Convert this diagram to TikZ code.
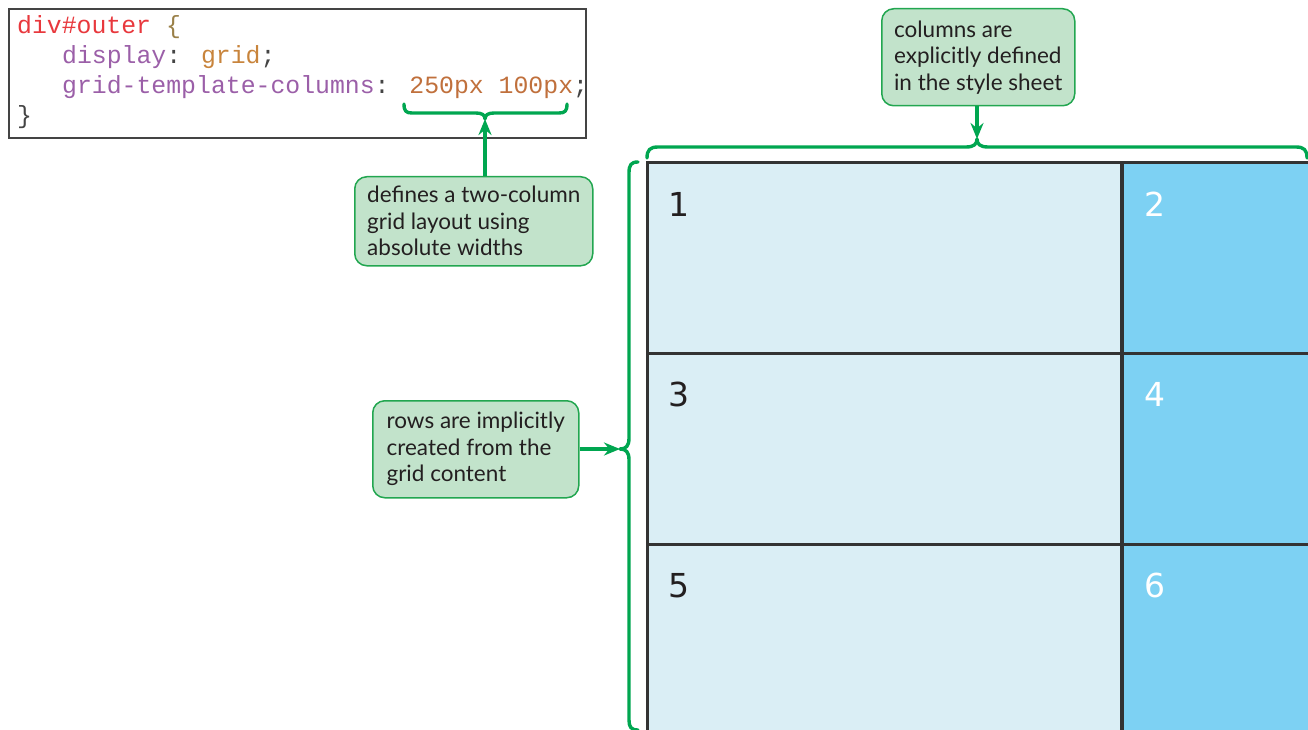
\documentclass[tikz,border=0pt]{standalone}
\usepackage{fontspec}
\setmainfont{Lato}
\newfontfamily\codefont{Liberation Mono}
\newfontfamily\cellfont{DejaVu Sans}
\usetikzlibrary{arrows.meta}
\definecolor{callfill}{HTML}{C2E3CB}
\definecolor{callline}{HTML}{22A650}
\definecolor{bracegreen}{HTML}{00A650}
\definecolor{cellpale}{HTML}{DAEEF5}
\definecolor{cellblue}{HTML}{7DD1F3}
\definecolor{gridline}{HTML}{333333}
\definecolor{codered}{HTML}{E8383D}
\definecolor{codebrace}{HTML}{9A8048}
\definecolor{codeprop}{HTML}{9B5FA8}
\definecolor{codeval}{HTML}{C8843C}
\definecolor{codenum}{HTML}{C0703C}
\definecolor{codedark}{HTML}{444444}
\definecolor{texttone}{HTML}{231F20}
\tikzset{
  callout/.style={draw=callline, fill=callfill, line width=1.5pt, rounded corners=12pt,
    align=left, text=texttone, font=\fontsize{22.5}{26.5}\selectfont, inner sep=4pt, anchor=north west},
  codeline/.style={anchor=base west, inner sep=0pt, font=\codefont\fontsize{24.8}{30}\selectfont},
  bracepath/.style={draw=bracegreen, line width=3.4pt, line cap=round, line join=round},
  arr/.style={draw=bracegreen, line width=3.2pt, -{Stealth[length=16pt,width=13pt]}},
  cellnum/.style={anchor=base west, inner sep=0pt, font=\cellfont\fontsize{33}{33}\selectfont},
}
\begin{document}
\begin{tikzpicture}[x=1pt,y=-1pt]
\useasboundingbox (0,0) rectangle (1308,730);

% style sheet excerpt
\node[draw=codedark, line width=1.6pt, minimum width=577pt, minimum height=129pt, anchor=north west, inner sep=0pt] (code) at (8,8) {};
\node[codeline] (l1) at (17,34) {\color{codered}div\#outer \color{codebrace}\{};
\node[codeline] (l2) at (62,64) {\color{codeprop}display\color{codedark}: \color{codeval}grid\color{codedark};};
\node[codeline] (l3) at (62,94) {\color{codeprop}grid-template-columns\color{codedark}: \color{codenum}250px 100px\color{codedark};};
\node[codeline] (l4) at (17,124) {\color{codedark}\}};

% grid cells
\fill[cellpale] (647,163) rectangle (1122,730);
\fill[cellblue] (1122,163) rectangle (1310,730);
\draw[gridline, line width=3pt] (1310,163) -- (647,163) -- (647,732);
\draw[gridline, line width=3.4pt] (1122,163) -- (1122,732);
\draw[gridline, line width=3pt] (647,353) -- (1310,353);
\draw[gridline, line width=3pt] (647,544) -- (1310,544);
\node[cellnum, text=texttone] (n1) at (668,216) {1};
\node[cellnum, text=white] (n2) at (1144,216) {2};
\node[cellnum, text=texttone] (n3) at (668,406) {3};
\node[cellnum, text=white] (n4) at (1144,406) {4};
\node[cellnum, text=texttone] (n5) at (668,597) {5};
\node[cellnum, text=white] (n6) at (1144,597) {6};

% braces
\coordinate (tipcode) at (485,119);
\coordinate (tiptop) at (977,139);
\coordinate (tipleft) at (620,449);
\draw[bracepath] (404,104) .. controls (404,111) and (406,113) .. (412,113) -- (476,113)
  .. controls (482,113) and (485,115) .. (tipcode) .. controls (485,115) and (488,113) .. (494,113)
  -- (559,113) .. controls (565,113) and (567,111) .. (567,104);
\draw[bracepath] (647,158) .. controls (647,150) and (650,147) .. (658,147) -- (966,147)
  .. controls (974,147) and (977,144) .. (tiptop) .. controls (977,144) and (980,147) .. (988,147)
  -- (1296,147) .. controls (1304,147) and (1307,150) .. (1307,158);
\draw[bracepath] (638,162) .. controls (631,162) and (629,165) .. (629,173) -- (629,438)
  .. controls (629,446) and (626,449) .. (tipleft) .. controls (626,449) and (629,452) .. (629,460)
  -- (629,720) .. controls (629,727) and (631,730) .. (638,730);

% callouts
\node[callout, minimum width=238pt, minimum height=89pt] (c1) at (354,176)
  {defines a two-column\\grid layout using\\absolute widths};
\node[callout, minimum width=193pt, minimum height=97pt] (c2) at (881,8)
  {columns are\\explicitly defined\\in the style sheet};
\node[callout, minimum width=206pt, minimum height=97pt] (c3) at (372,400)
  {rows are implicitly\\created from the\\grid content};

\draw[arr] (c1.north -| tipcode) -- (tipcode);
\draw[arr] (c2.south -| tiptop) -- (tiptop);
\draw[arr] (c3.east |- tipleft) -- (tipleft);
\end{tikzpicture}
\end{document}
